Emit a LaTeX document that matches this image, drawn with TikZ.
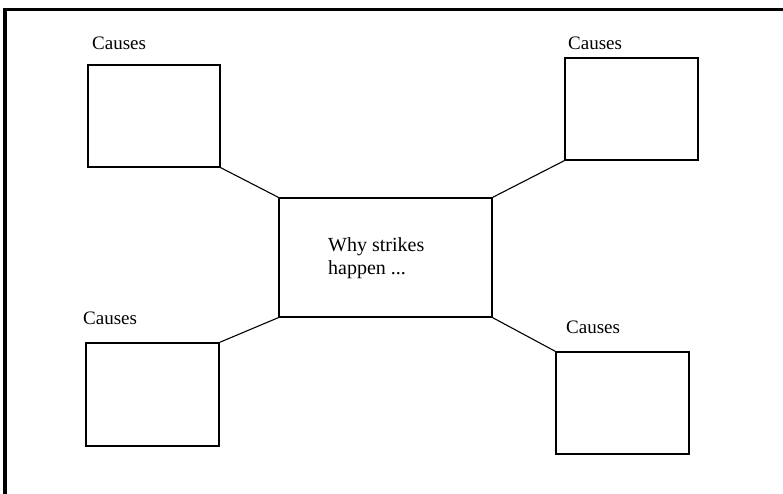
\documentclass[tikz,border=0pt]{standalone}
\usepackage{fontspec}
\setmainfont{Liberation Serif}

\begin{document}
\begin{tikzpicture}[x=1pt,y=-1pt,
    causebox/.style={draw,line width=1.3pt,minimum width=132pt,minimum height=102pt,inner sep=0pt},
    causelabel/.style={anchor=west,inner sep=0pt,font=\fontsize{19}{22}\selectfont},
    link/.style={line width=1.1pt}]

    \useasboundingbox (0,0) rectangle (783,494);

    % Draw the outer frame (cut off at right and bottom)
    \draw[line width=3.5pt] (783,9.5) -- (5,9.5) -- (5,494);

    % Draw the central box
    \node[draw,line width=1.3pt,minimum width=213pt,minimum height=119pt,inner sep=0pt] (why) at (385.5,257.5) {};
    \node[anchor=west,inner sep=0pt,align=left,font=\fontsize{20}{23}\selectfont] (whytext) at (328,258.5) {Why strikes\\happen ...};

    % Draw the four cause boxes
    \node[causebox] (causeA) at (154,116) {};
    \node[causebox,minimum width=133pt] (causeB) at (631.5,109) {};
    \node[causebox,minimum width=133pt,minimum height=103pt] (causeC) at (152.5,394.5) {};
    \node[causebox,minimum width=133pt] (causeD) at (622.5,403) {};

    % Label the cause boxes
    \node[causelabel] (labelA) at (92,43) {Causes};
    \node[causelabel] (labelB) at (568,43) {Causes};
    \node[causelabel] (labelC) at (83,318) {Causes};
    \node[causelabel] (labelD) at (566,327) {Causes};

    % Join the cause boxes to the corners of the central box
    \draw[link] (causeA.south east) -- (why.north west);
    \draw[link] (causeB.south west) -- (why.north east);
    \draw[link] (causeC.north east) -- (why.south west);
    \draw[link] (causeD.north west) -- (why.south east);

\end{tikzpicture}
\end{document}
